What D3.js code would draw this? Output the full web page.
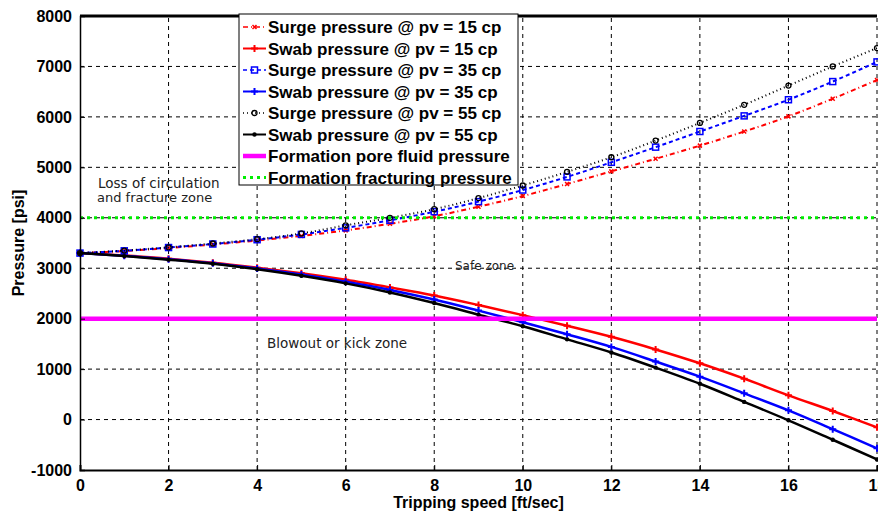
<!DOCTYPE html>
<html>
<head>
<meta charset="utf-8">
<script src="https://d3js.org/d3.v7.min.js"></script>
<style>
  body { margin: 0; background: #fff; }
  svg { display: block; }
  .tick text { font: bold 16px "Liberation Sans", Arial, sans-serif; fill: #000; }
  .axis path, .axis line { stroke: #000; }
  .grid line { stroke: #000; stroke-width: 1; stroke-dasharray: 4,4; }
  .legend text { font: bold 17px "Liberation Sans", Arial, sans-serif; fill: #000; }
  .zone { font: 13.5px "DejaVu Sans", sans-serif; fill: #222; }
</style>
</head>
<body>
<svg id="chart" width="878" height="513"></svg>
<script>
// tripping speed [ft/sec]
var speed = [0, 1, 2, 3, 4, 5, 6, 7, 8, 9, 10, 11, 12, 13, 14, 15, 16, 17, 18];

// pressures [psi]
var surge15 = [3300, 3340, 3400, 3470, 3550, 3640, 3750, 3880, 4030, 4220, 4430, 4670, 4920, 5170, 5430, 5710, 6010, 6360, 6730];
var swab15  = [3300, 3250, 3190, 3110, 3010, 2900, 2770, 2620, 2460, 2270, 2070, 1860, 1640, 1390, 1115, 810, 480, 170, -155];
var surge35 = [3300, 3345, 3410, 3480, 3565, 3670, 3800, 3950, 4120, 4320, 4550, 4810, 5100, 5400, 5710, 6020, 6340, 6700, 7090];
var swab35  = [3300, 3245, 3180, 3100, 2995, 2875, 2730, 2570, 2380, 2160, 1930, 1690, 1440, 1150, 850, 520, 183, -190, -571];
var surge55 = [3300, 3350, 3415, 3490, 3575, 3690, 3850, 4000, 4170, 4390, 4640, 4910, 5200, 5530, 5880, 6240, 6620, 7000, 7365];
var swab55  = [3300, 3240, 3170, 3090, 2980, 2850, 2700, 2520, 2310, 2080, 1850, 1590, 1330, 1030, 710, 350, -15, -400, -790];

var porePressure = 2000;
var fracPressure = 4000;

var xTicks = [0, 2, 4, 6, 8, 10, 12, 14, 16, 18];
var yTicks = [-1000, 0, 1000, 2000, 3000, 4000, 5000, 6000, 7000, 8000];

var seriesNames = [
  'Surge pressure @ pv = 15 cp', 'Swab pressure @ pv = 15 cp',
  'Surge pressure @ pv = 35 cp', 'Swab pressure @ pv = 35 cp',
  'Surge pressure @ pv = 55 cp', 'Swab pressure @ pv = 55 cp',
  'Formation pore fluid pressure', 'Formation fracturing pressure'
];

var series = [
  { values: surge15, color: '#ff0000', dash: '5,3,1,3', marker: 'x' },
  { values: swab15,  color: '#ff0000', dash: null,      marker: 'plus' },
  { values: surge35, color: '#0000ff', dash: '4,3',     marker: 'square' },
  { values: swab35,  color: '#0000ff', dash: null,      marker: 'plus' },
  { values: surge55, color: '#000000', dash: '1,3',     marker: 'circle' },
  { values: swab55,  color: '#000000', dash: null,      marker: 'dot' }
];

var svg = d3.select('#chart');
var x = d3.scaleLinear().domain([0, 18]).range([80, 877]);
var y = d3.scaleLinear().domain([-1000, 8000]).range([470, 16]);

// grid
var grid = svg.append('g').attr('class', 'grid');
grid.selectAll('.gx').data(xTicks.slice(1)).enter().append('line')
  .attr('x1', d => x(d)).attr('x2', d => x(d)).attr('y1', y(-1000)).attr('y2', y(8000));
grid.selectAll('.gy').data(yTicks.slice(1, -1)).enter().append('line')
  .attr('x1', x(0)).attr('x2', x(18)).attr('y1', d => y(d)).attr('y2', d => y(d));

// curves
var line = d3.line().x((d, i) => x(speed[i])).y(d => y(d)).curve(d3.curveCatmullRom);
var curves = svg.append('g');

function drawMarker(g, type, color, cx, cy) {
  if (type === 'x') {
    g.append('path').attr('d', `M${cx-2},${cy-2}L${cx+2},${cy+2}M${cx-2},${cy+2}L${cx+2},${cy-2}`)
      .attr('stroke', color).attr('stroke-width', 1.5);
  } else if (type === 'plus') {
    g.append('path').attr('d', `M${cx-3.5},${cy}L${cx+3.5},${cy}M${cx},${cy-3.5}L${cx},${cy+3.5}`)
      .attr('stroke', color).attr('stroke-width', 2);
  } else if (type === 'square') {
    g.append('rect').attr('x', cx - 3).attr('y', cy - 3).attr('width', 6).attr('height', 6)
      .attr('fill', 'none').attr('stroke', color).attr('stroke-width', 1.5);
  } else if (type === 'circle') {
    g.append('circle').attr('cx', cx).attr('cy', cy).attr('r', 2.5)
      .attr('fill', 'none').attr('stroke', color).attr('stroke-width', 1.3);
  } else if (type === 'dot') {
    g.append('circle').attr('cx', cx).attr('cy', cy).attr('r', 2.2).attr('fill', color);
  }
}

series.forEach(s => {
  curves.append('path').datum(s.values)
    .attr('d', line)
    .attr('fill', 'none')
    .attr('stroke', s.color)
    .attr('stroke-width', s.dash ? 2 : 2.5)
    .attr('stroke-dasharray', s.dash);
  var mg = curves.append('g');
  s.values.forEach((v, i) => drawMarker(mg, s.marker, s.color, x(speed[i]), y(v)));
});

// formation pressures
svg.append('line')
  .attr('x1', x(0)).attr('x2', x(18)).attr('y1', y(porePressure)).attr('y2', y(porePressure))
  .attr('stroke', '#ff00ff').attr('stroke-width', 4.5);
svg.append('line')
  .attr('x1', x(0)).attr('x2', x(18)).attr('y1', y(fracPressure)).attr('y2', y(fracPressure))
  .attr('stroke', '#00ee00').attr('stroke-width', 3).attr('stroke-dasharray', '3,4');

// axes
var fmt = d => String(d);
var xAxis = d3.axisBottom(x).tickValues(xTicks).tickSize(-5).tickPadding(10).tickFormat(fmt);
var yAxis = d3.axisLeft(y).tickValues(yTicks).tickSize(-5).tickPadding(8).tickFormat(fmt);

svg.append('g').attr('class', 'axis x')
  .attr('transform', `translate(0, ${y(-1000)})`)
  .call(xAxis)
  .call(g => g.select('.domain').attr('stroke-width', 2));
svg.append('g').attr('class', 'axis y')
  .attr('transform', `translate(${x(0)}, 0)`)
  .call(yAxis)
  .call(g => g.select('.domain').attr('stroke-width', 1.5));

// top border
svg.append('line').attr('x1', x(0)).attr('x2', x(18)).attr('y1', y(8000)).attr('y2', y(8000))
  .attr('stroke', '#000').attr('stroke-width', 3);

// axis titles
svg.append('text').attr('x', (x(0) + x(18)) / 2).attr('y', 508)
  .attr('text-anchor', 'middle')
  .style('font', 'bold 16px "Liberation Sans", Arial, sans-serif')
  .text('Tripping speed [ft/sec]');
svg.append('text')
  .attr('transform', `translate(24, ${(y(-1000) + y(8000)) / 2}) rotate(-90)`)
  .attr('text-anchor', 'middle')
  .style('font', 'bold 16px "Liberation Sans", Arial, sans-serif')
  .text('Pressure [psi]');

// zone labels
svg.append('text').attr('class', 'zone').attr('x', 98).attr('y', 188).text('Loss of circulation');
svg.append('text').attr('class', 'zone').attr('x', 97).attr('y', 202).style('font-size', '13px').text('and fracture zone');
svg.append('text').attr('class', 'zone').attr('x', 455).attr('y', 270).style('font-size', '12px').text('Safe zone');
svg.append('text').attr('class', 'zone').attr('x', 267).attr('y', 348).text('Blowout or kick zone');

// legend
var legend = svg.append('g').attr('class', 'legend');
legend.append('rect').attr('x', 239).attr('y', 14).attr('width', 279).attr('height', 171)
  .attr('fill', '#fff').attr('stroke', '#000').attr('stroke-width', 1);

var legendStyles = series.concat([
  { color: '#ff00ff', dash: null, width: 4.5 },
  { color: '#00ee00', dash: '3,4', width: 3 }
]);

seriesNames.forEach((name, i) => {
  var ly = 27 + i * 21.5;
  var s = legendStyles[i];
  legend.append('line').attr('x1', 243).attr('x2', 266).attr('y1', ly).attr('y2', ly)
    .attr('stroke', s.color)
    .attr('stroke-width', s.width || (s.dash ? 1.5 : 2))
    .attr('stroke-dasharray', s.dash);
  if (s.marker) drawMarker(legend, s.marker, s.color, 254.5, ly);
  legend.append('text').attr('x', 268).attr('y', ly + 6).text(name);
});
</script>
</body>
</html>
